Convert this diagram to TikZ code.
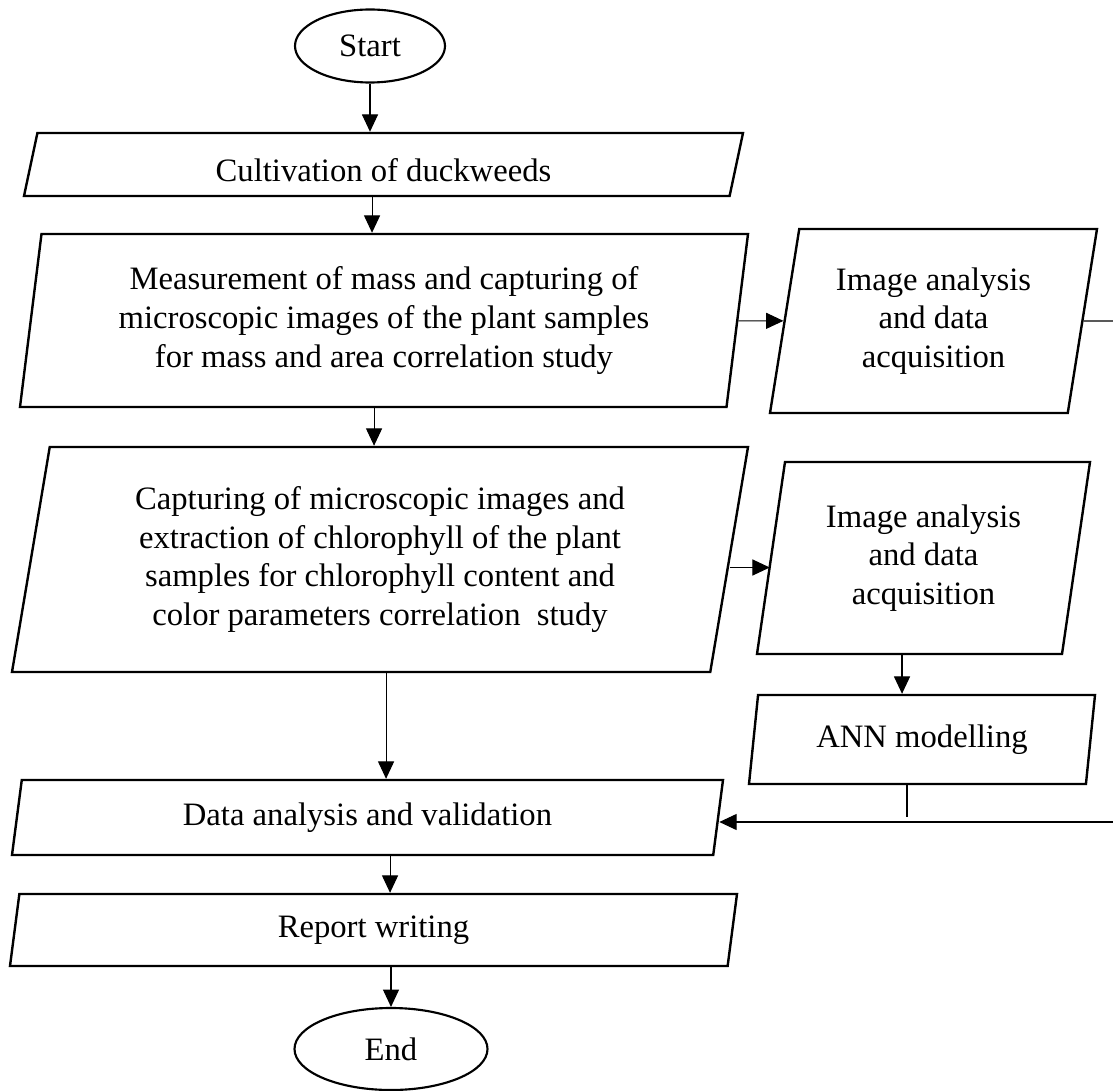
\documentclass[tikz,border=0pt]{standalone}
\usepackage{fontspec}
\setmainfont{Liberation Serif}
\usetikzlibrary{shapes.geometric,arrows.meta,calc}

\tikzset{
  chartfont/.style={font=\fontsize{24.5pt}{29pt}\selectfont},
  terminal/.style={draw, ellipse, line width=1.6pt, inner sep=0pt, chartfont},
  iobox/.style={draw, trapezium, line width=1.8pt, trapezium stretches body,
    inner sep=2pt, align=center, chartfont},
  lean/.style 2 args={trapezium left angle=#1, trapezium right angle=#2},
  flow/.style={line width=0.8pt, -{Triangle[length=13pt,width=12pt]}},
  link/.style={line width=0.8pt}
}

\begin{document}
\begin{tikzpicture}[x=0.75pt,y=0.75pt,yscale=-1,xscale=1]
\useasboundingbox (0,0) rectangle (1113,1091);

% Terminator: Start
\node [terminal, minimum width=112.5pt, minimum height=54.75pt] (start) at (370,46) {Start};

% Shape: Kultivierung
\node [iobox, lean={71.6}{108.4}, minimum width=539.25pt, minimum height=47.25pt, text height=26pt] (cult) at (383.5,164.5) {Cultivation of duckweeds};

% Shape: Masse und Fläche
\node [iobox, lean={79.2}{100.8}, minimum width=546pt, minimum height=129.75pt] (meas) at (384,320.5)
  {Measurement of mass and capturing of\\ microscopic images of the plant samples\\ for mass and area correlation study};

% Shape: erste Bildanalyse
\node [iobox, lean={75.4}{104.6}, minimum width=245.25pt, minimum height=138pt] (imgA) at (933.5,321)
  {Image analysis\\ and data\\ acquisition};

% Shape: Chlorophyll
\node [iobox, lean={76}{104}, minimum width=552pt, minimum height=168.75pt] (chl) at (380,559.5)
  {Capturing of microscopic images and\\ extraction of chlorophyll of the plant\\ samples for chlorophyll content and\\ color parameters correlation\ \ study};

% Shape: zweite Bildanalyse
\node [iobox, lean={76}{104}, minimum width=249.75pt, minimum height=144pt] (imgB) at (923.5,558)
  {Image analysis\\ and data\\ acquisition};

% Shape: ANN
\node [iobox, lean={75.5}{104.5}, minimum width=259.5pt, minimum height=66.75pt] (ann) at (922,739.5) {ANN modelling};

% Shape: Auswertung
\node [iobox, lean={74.4}{105.6}, minimum width=533.25pt, minimum height=56.25pt] (dav) at (367.5,817.5) {Data analysis and validation};

% Shape: Bericht
\node [iobox, lean={74.6}{105.4}, minimum width=545.25pt, minimum height=54pt] (rep) at (373.5,930) {Report writing};

% Terminator: End
\node [terminal, minimum width=144.75pt, minimum height=61.5pt] (end) at (391,1049) {End};

% Offene Enden am rechten Rand
\coordinate (offA) at (1113,321);
\coordinate (offB) at (1113,822);
\coordinate (annend) at (907,817);

% Connectors
\draw [flow] (start) -- (start |- cult.north);
\draw [flow] ($(cult.south)+(-11.5,0)$) -- ($(cult.south |- meas.north)+(-11.5,0)$);
\draw [flow] (meas) -- (imgA);
\draw [link] (imgA) -- (offA);
\draw [flow] ($(meas.south)+(-10,0)$) -- ($(meas.south |- chl.north)+(-10,0)$);
\draw [flow] ($(chl.east)+(0,8)$) -- ($(chl.east -| imgB.west)+(0,8)$);
\draw [flow] ($(imgB.south)+(-21.5,0)$) -- ($(imgB.south |- ann.north)+(-21.5,0)$);
\draw [link] (ann.south -| annend) -- (annend);
\draw [flow] (offB) -- (offB -| dav.east);
\draw [flow] ($(chl.south)+(6,0)$) -- ($(chl.south |- dav.north)+(6,0)$);
\draw [flow] ($(dav.south)+(22.5,0)$) -- ($(dav.south |- rep.north)+(22.5,0)$);
\draw [flow] (rep.south -| end) -- (end);

\end{tikzpicture}
\end{document}
